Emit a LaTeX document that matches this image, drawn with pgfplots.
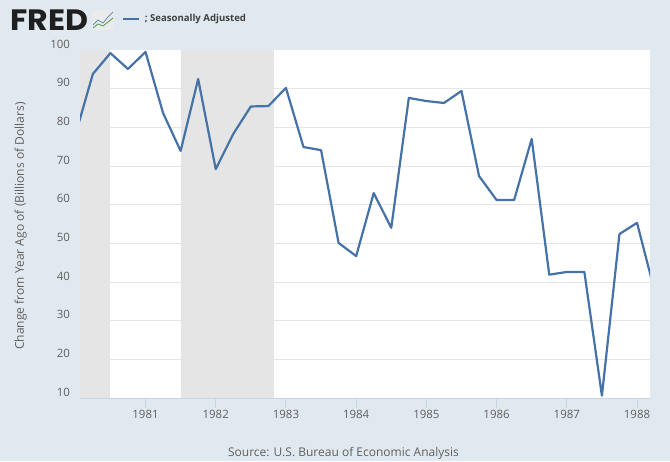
\documentclass[border=0pt]{standalone}
\usepackage{graphicx}
\usepackage{pgfplots}
\pgfplotsset{compat=1.18}
\usepackage{fontspec}
\setmainfont{Open Sans}
\newfontfamily\logofont{Poppins}
\definecolor{bgc}{HTML}{E1E9F0}
\definecolor{gridc}{HTML}{E6E6E6}
\definecolor{recc}{HTML}{E5E5E5}
\definecolor{linec}{HTML}{4572A7}
\definecolor{axisc}{HTML}{C8D4E8}
\definecolor{txtc}{HTML}{5F5F5F}
\begin{document}
\begin{tikzpicture}[x=0.75pt,y=0.75pt]
\fill[bgc] (0,0) rectangle (670,461);
\node[anchor=west,inner sep=0pt,text=black!88] at (10,441) {\resizebox{58.5pt}{15.5pt}{\logofont\bfseries FRED}};
\begin{scope}
\fill[black!8] (92,431) rectangle (114,451);
\draw[linec!80,line width=0.6pt] (93,436)--(98,441)--(103,438)--(108,444)--(113,449);
\draw[green!45!black!70,line width=0.6pt] (93,433)--(98,437)--(103,435)--(108,439)--(113,443);
\end{scope}
\draw[linec,line width=1.5pt] (123,441.5)--(139,441.5);
\node[anchor=west,inner sep=0pt,text=black!75,font=\fontsize{7.2pt}{8pt}\selectfont\bfseries] at (144.5,441.5) {; Seasonally Adjusted};
\begin{axis}[
  at={(60pt,47.25pt)},anchor=south west,
  scale only axis,width=427.5pt,height=261pt,
  axis background/.style={fill=white},
  xmin=1980.067,xmax=1988.185,ymin=10,ymax=100,
  axis y line*=left,axis x line*=bottom,
  y axis line style={draw=none},
  x axis line style={draw=axisc,line width=0.75pt,-},
  axis line style={-},
  xtick={1981,1982,1983,1984,1985,1986,1987,1988},
  ytick={20,30,40,50,60,70,80,90},
  extra y ticks={10,100},
  extra y tick style={ymajorgrids=false},
  ymajorgrids,
  grid style={draw=gridc,line width=0.75pt},
  major tick length=7.5pt,
  tick align=outside,
  xtick style={draw=axisc,line width=0.75pt},
  ytick style={draw=none},
  /pgf/number format/assume math mode=true,
  /pgf/number format/1000 sep={},
  ticklabel style={font=\fontsize{8.6pt}{10pt}\selectfont,text=txtc},
  xticklabel style={yshift=2.2pt},
  yticklabel style={yshift=4.5pt,xshift=3.5pt},
  ylabel near ticks,
  ylabel={Change from Year Ago of (Billions of Dollars)},
  ylabel style={font=\fontsize{9.05pt}{11pt}\selectfont,text=txtc,yshift=0.6pt,xshift=-1.5pt},
  clip=true,
]
\addplot[draw=none,fill=recc,forget plot] coordinates {(1980,10)(1980,100)(1980.5,100)(1980.5,10)} --cycle;
\addplot[draw=none,fill=recc,forget plot] coordinates {(1981.5,10)(1981.5,100)(1982.83,100)(1982.83,10)} --cycle;
\addplot[linec,line width=1.65pt,line join=round] coordinates {
(1980.0,78)(1980.25,93.8)(1980.5,99.2)(1980.75,95.1)(1981,99.5)(1981.25,83.7)(1981.5,73.9)(1981.75,92.5)
(1982,69.2)(1982.25,78.3)(1982.5,85.4)(1982.75,85.5)(1983,90.2)(1983.25,74.9)(1983.5,74.1)(1983.75,50.1)
(1984,46.7)(1984.25,63)(1984.5,54)(1984.75,87.6)(1985,86.8)(1985.25,86.3)(1985.5,89.4)(1985.75,67.4)
(1986,61.2)(1986.25,61.2)(1986.5,77)(1986.75,41.9)(1987,42.6)(1987.25,42.6)(1987.5,10.6)(1987.75,52.4)
(1988,55.3)(1988.25,37.7)};
\end{axis}
\node[text=txtc,inner sep=0pt,font=\fontsize{9pt}{11pt}\selectfont] at (343.5,7.5) {Source: U.S. Bureau of Economic Analysis};
\end{tikzpicture}
\end{document}
